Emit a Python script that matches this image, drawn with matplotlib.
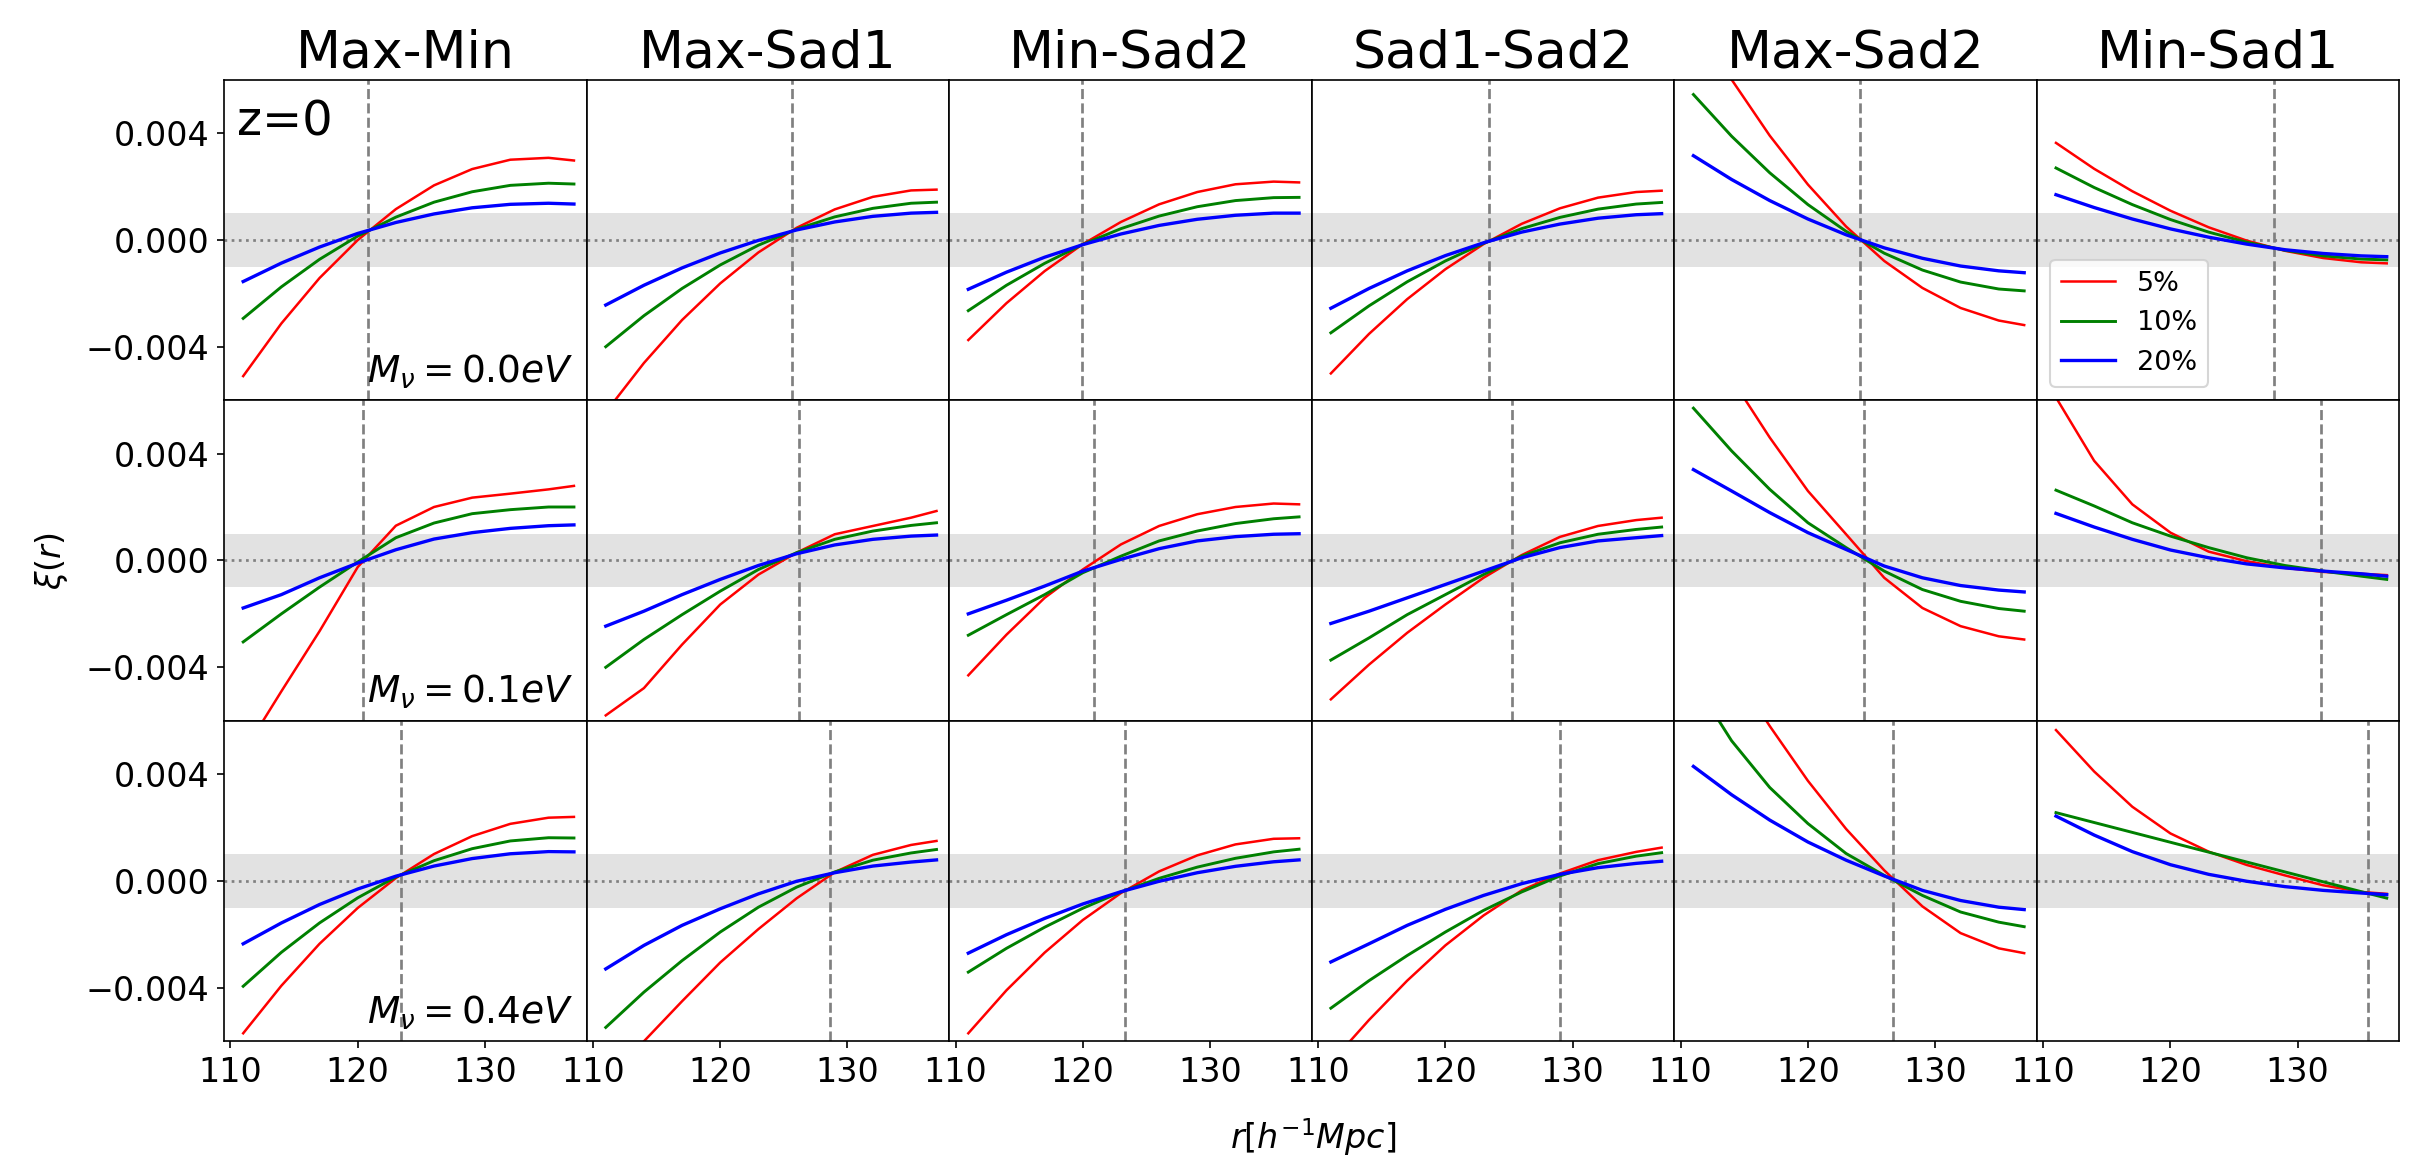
import numpy as np
import matplotlib.pyplot as plt

#---------------------Dados----------------------#
r = [111, 114, 117, 120, 123, 126, 129, 132, 135, 137]

pares = ['Max-Min', 'Max-Sad1', 'Min-Sad2', 'Sad1-Sad2', 'Max-Sad2', 'Min-Sad1']
massas = ['0.0', '0.1', '0.4']
rotulos = ['5%', '10%', '20%']
cores = ['red', 'green', 'blue']

# xi(r) em unidades de 1e-3, uma lista por painel (coluna)
m00_5 = [[-5.10, -3.13, -1.43, -0.01, 1.15, 2.04, 2.65, 3.00, 3.07, 2.97],
         [-6.45, -4.61, -3.00, -1.63, -0.47, 0.45, 1.14, 1.61, 1.85, 1.88],
         [-3.75, -2.37, -1.17, -0.16, 0.67, 1.33, 1.79, 2.08, 2.18, 2.15],
         [-5.00, -3.52, -2.22, -1.10, -0.16, 0.60, 1.18, 1.58, 1.79, 1.84],
         [8.38, 6.00, 3.90, 2.07, 0.50, -0.79, -1.80, -2.55, -3.02, -3.19],
         [3.63, 2.66, 1.82, 1.09, 0.47, -0.03, -0.41, -0.68, -0.84, -0.88]]
m00_10 = [[-2.94, -1.76, -0.73, 0.14, 0.85, 1.41, 1.80, 2.04, 2.12, 2.09],
          [-4.00, -2.84, -1.82, -0.94, -0.20, 0.40, 0.86, 1.18, 1.37, 1.41],
          [-2.65, -1.70, -0.88, -0.17, 0.42, 0.89, 1.24, 1.47, 1.58, 1.59],
          [-3.48, -2.47, -1.57, -0.79, -0.13, 0.42, 0.84, 1.15, 1.34, 1.40],
          [5.44, 3.88, 2.51, 1.32, 0.32, -0.50, -1.13, -1.58, -1.84, -1.91],
          [2.69, 1.96, 1.32, 0.76, 0.29, -0.09, -0.39, -0.60, -0.72, -0.75]]
m00_20 = [[-1.56, -0.87, -0.27, 0.24, 0.65, 0.97, 1.20, 1.33, 1.37, 1.34],
          [-2.44, -1.70, -1.05, -0.49, -0.02, 0.37, 0.67, 0.88, 1.00, 1.03],
          [-1.85, -1.21, -0.65, -0.18, 0.22, 0.54, 0.77, 0.92, 1.00, 1.00],
          [-2.56, -1.82, -1.16, -0.59, -0.11, 0.29, 0.59, 0.81, 0.94, 0.98],
          [3.15, 2.26, 1.47, 0.78, 0.19, -0.30, -0.69, -0.98, -1.16, -1.23],
          [1.69, 1.21, 0.78, 0.41, 0.10, -0.16, -0.37, -0.51, -0.60, -0.63]]

m01_5 = [[-7.20, -4.90, -2.65, -0.25, 1.30, 2.00, 2.35, 2.50, 2.66, 2.79],
         [-5.80, -4.78, -3.15, -1.65, -0.53, 0.29, 0.98, 1.29, 1.60, 1.85],
         [-4.30, -2.78, -1.40, -0.34, 0.60, 1.29, 1.73, 2.00, 2.13, 2.10],
         [-5.20, -3.90, -2.71, -1.65, -0.65, 0.20, 0.88, 1.29, 1.51, 1.60],
         [9.20, 6.80, 4.60, 2.60, 0.98, -0.65, -1.78, -2.46, -2.84, -2.96],
         [6.10, 3.73, 2.10, 1.04, 0.33, -0.03, -0.28, -0.43, -0.50, -0.55]]
m01_10 = [[-3.05, -2.00, -1.00, -0.06, 0.85, 1.40, 1.75, 1.90, 2.00, 2.00],
          [-4.00, -2.96, -2.03, -1.15, -0.34, 0.29, 0.79, 1.10, 1.31, 1.41],
          [-2.80, -2.03, -1.28, -0.46, 0.16, 0.73, 1.10, 1.38, 1.56, 1.63],
          [-3.73, -2.90, -2.03, -1.28, -0.53, 0.16, 0.66, 0.98, 1.16, 1.25],
          [5.70, 4.10, 2.66, 1.41, 0.48, -0.40, -1.09, -1.53, -1.80, -1.90],
          [2.63, 2.04, 1.41, 0.91, 0.48, 0.10, -0.19, -0.40, -0.59, -0.71]]
m01_20 = [[-1.78, -1.28, -0.65, -0.10, 0.40, 0.80, 1.04, 1.20, 1.30, 1.33],
          [-2.46, -1.90, -1.28, -0.71, -0.19, 0.25, 0.58, 0.79, 0.91, 0.95],
          [-2.00, -1.49, -0.96, -0.40, 0.04, 0.44, 0.73, 0.89, 0.98, 1.00],
          [-2.36, -1.90, -1.40, -0.90, -0.40, 0.10, 0.48, 0.73, 0.85, 0.93],
          [3.40, 2.60, 1.79, 1.04, 0.41, -0.21, -0.65, -0.94, -1.11, -1.18],
          [1.76, 1.25, 0.79, 0.39, 0.10, -0.13, -0.28, -0.40, -0.50, -0.59]]

m04_5 = [[-5.70, -3.92, -2.35, -1.01, 0.11, 1.01, 1.68, 2.14, 2.37, 2.40],
         [-7.70, -6.00, -4.50, -3.05, -1.80, -0.65, 0.33, 0.98, 1.35, 1.50],
         [-5.70, -4.09, -2.68, -1.46, -0.45, 0.36, 0.96, 1.37, 1.58, 1.60],
         [-6.80, -5.20, -3.73, -2.41, -1.29, -0.35, 0.28, 0.78, 1.09, 1.25],
         [10.40, 8.00, 5.80, 3.75, 1.95, 0.40, -0.95, -1.95, -2.52, -2.70],
         [5.65, 4.10, 2.78, 1.78, 1.10, 0.60, 0.21, -0.16, -0.41, -0.48]]
m04_10 = [[-3.94, -2.67, -1.57, -0.63, 0.15, 0.76, 1.21, 1.50, 1.62, 1.61],
          [-5.48, -4.16, -2.98, -1.91, -0.98, -0.23, 0.34, 0.78, 1.05, 1.18],
          [-3.41, -2.52, -1.73, -1.02, -0.41, 0.10, 0.52, 0.85, 1.09, 1.19],
          [-4.76, -3.73, -2.79, -1.91, -1.10, -0.41, 0.19, 0.65, 0.93, 1.06],
          [7.50, 5.25, 3.50, 2.15, 1.03, 0.21, -0.54, -1.16, -1.54, -1.71],
          [2.56, 2.19, 1.82, 1.45, 1.08, 0.71, 0.34, -0.03, -0.40, -0.64]]
m04_20 = [[-2.35, -1.57, -0.88, -0.30, 0.18, 0.56, 0.84, 1.02, 1.10, 1.09],
          [-3.29, -2.41, -1.66, -1.04, -0.48, -0.01, 0.31, 0.56, 0.71, 0.79],
          [-2.70, -2.01, -1.40, -0.86, -0.40, -0.01, 0.31, 0.55, 0.72, 0.79],
          [-3.03, -2.35, -1.66, -1.06, -0.54, -0.10, 0.25, 0.50, 0.66, 0.74],
          [4.29, 3.23, 2.28, 1.46, 0.78, 0.19, -0.35, -0.73, -0.98, -1.07],
          [2.43, 1.72, 1.10, 0.61, 0.25, -0.01, -0.21, -0.35, -0.45, -0.51]]

# posicao das linhas tracejadas (cruzamento das curvas)
corte_m00 = [120.85, 125.65, 119.9, 123.4, 124.1, 128.1]
corte_m01 = [120.4, 126.2, 120.9, 125.2, 124.4, 131.8]
corte_m04 = [123.4, 128.65, 123.35, 129.0, 126.7, 135.5]

linhas = [[m00_5, m00_10, m00_20], [m01_5, m01_10, m01_20], [m04_5, m04_10, m04_20]]
cortes = [corte_m00, corte_m01, corte_m04]
larguras = [1.2, 1.4, 1.6]

#---------------------Grafico----------------------#
fig, axs = plt.subplots(3, 6, sharex=True, sharey=True, figsize=(16.24, 7.8), dpi=150)
fig.subplots_adjust(left=0.092, right=0.985, top=0.932, bottom=0.110, wspace=0, hspace=0)

for i in range(3):
	for j in range(6):
		ax = axs[i, j]
		ax.axhspan(-0.001, 0.001, color='lightgray', alpha=0.65, lw=0, zorder=0)#faixa cinza
		ax.axhline(0, color='gray', linestyle=':', lw=1.3, zorder=1)#linha do zero
		ax.axvline(cortes[i][j], color='gray', linestyle='--', lw=1.3, zorder=1)
		for k in range(3):
			ax.plot(r, np.array(linhas[i][k][j]) * 1e-3, color=cores[k], lw=larguras[k], label=rotulos[k])
		ax.tick_params(labelsize=16, left=(j == 0), bottom=(i == 2))
		if i == 0:
			ax.set_title(pares[j], fontsize=25)
	axs[i, 0].text(0.965, 0.03, r'$M_{\nu}=' + massas[i] + r'eV$', transform=axs[i, 0].transAxes,
	               ha='right', va='bottom', fontsize=18)

axs[0, 0].text(0.035, 0.94, 'z=0', transform=axs[0, 0].transAxes, ha='left', va='top', fontsize=23)

axs[0, 0].set_xlim(109.5, 138)
axs[0, 0].set_ylim(-0.006, 0.006)
axs[0, 0].set_xticks([110, 120, 130])
axs[0, 0].set_yticks([-0.004, 0.0, 0.004])

axs[0, 5].legend(loc='lower left', fontsize=13)

fig.text(0.021, 0.52, r'$\xi(r)$', rotation=90, ha='center', va='center', fontsize=16)
fig.text(0.539, 0.028, r'$r[h^{-1}Mpc]$', ha='center', va='center', fontsize=16)

fig.savefig('out.png', dpi=150)
